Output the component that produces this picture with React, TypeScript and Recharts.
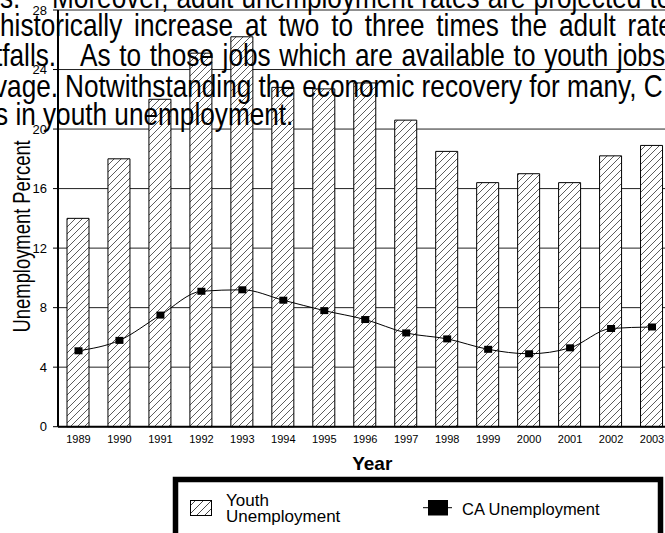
import React from 'react';
import { ComposedChart, Bar, Line, XAxis, YAxis, CartesianGrid } from 'recharts';

const years = ['1989', '1990', '1991', '1992', '1993', '1994', '1995', '1996', '1997', '1998', '1999', '2000', '2001', '2002', '2003'];
const youthUnemployment = [14.0, 18.0, 22.0, 25.1, 26.2, 22.8, 22.7, 23.1, 20.6, 18.5, 16.4, 17.0, 16.4, 18.2, 18.9];
const caUnemployment = [5.1, 5.8, 7.5, 9.1, 9.2, 8.5, 7.8, 7.2, 6.3, 5.9, 5.2, 4.9, 5.3, 6.6, 6.7];
const yTicks = [0, 4, 8, 12, 16, 20, 24, 28];

const data = years.map((year, i) => ({ year, youth: youthUnemployment[i], ca: caUnemployment[i] }));

const FONT = "'Liberation Sans', Arial, Helvetica, sans-serif";

const SquareDot = (props: any) => {
  const { cx, cy, index } = props;
  if (cx == null || cy == null) return null;
  return <rect key={`dot-${index}`} x={cx - 4} y={cy - 3.5} width={8} height={7} fill="#000" />;
};

const YLabel = (props: any) => {
  const vb = props.viewBox || { x: 0, y: 10, width: 58, height: 417 };
  const cx = vb.x + 22;
  const cy = vb.y + vb.height / 2 + 18;
  return (
    <text
      transform={`translate(${cx},${cy}) rotate(-90) scale(0.8,1)`}
      textAnchor="middle"
      dominantBaseline="central"
      fontSize={23}
      fontFamily={FONT}
      fill="#000"
    >
      Unemployment Percent
    </text>
  );
};

const XLabel = (props: any) => {
  const vb = props.viewBox || { x: 58, y: 427, width: 614, height: 30 };
  return (
    <text x={vb.x + vb.width / 2 + 7} y={vb.y + vb.height + 13} textAnchor="middle" fontSize={19} fontWeight="bold" fontFamily={FONT} fill="#000">
      Year
    </text>
  );
};

const S = 0.845;

export default function App() {
  return (
    <div style={{ position: 'absolute', left: 0, top: 0, width: 665, height: 533, overflow: 'hidden', background: '#fff' }}>
      <ComposedChart width={700} height={533} data={data} margin={{ top: 10, right: 27.5, bottom: 76.3, left: 0 }}>
        <defs>
          <pattern id="hatch" patternUnits="userSpaceOnUse" width={7} height={7}>
            <rect width={7} height={7} fill="#fff" />
            <path d="M0,7 L7,0 M-1,1 L1,-1 M6,8 L8,6" stroke="#333" strokeWidth={0.8} />
          </pattern>
        </defs>
        <CartesianGrid vertical={false} stroke="#222" strokeWidth={1} />
        <XAxis
          dataKey="year"
          height={30}
          tickLine={false}
          axisLine={{ stroke: '#000', strokeWidth: 2 }}
          tick={{ fontSize: 11, fill: '#000', fontFamily: FONT }}
          interval={0}
          label={<XLabel />}
        />
        <YAxis
          width={58}
          domain={[0, 28]}
          ticks={yTicks}
          tickSize={5}
          tickMargin={6}
          tickLine={{ stroke: '#000' }}
          axisLine={{ stroke: '#000', strokeWidth: 2 }}
          tick={{ fontSize: 13, fill: '#000', fontFamily: FONT }}
          label={<YLabel />}
        />
        <Bar dataKey="youth" barSize={22} fill="url(#hatch)" stroke="#000" strokeWidth={1} isAnimationActive={false} />
        <Line dataKey="ca" type="monotone" stroke="#000" strokeWidth={1} dot={<SquareDot />} activeDot={false} isAnimationActive={false} />
      </ComposedChart>

      <svg width={665} height={533} style={{ position: 'absolute', left: 0, top: 0, pointerEvents: 'none' }}>
        <defs>
          <pattern id="legendHatch" patternUnits="userSpaceOnUse" width={8} height={8}>
            <rect width={8} height={8} fill="#fff" />
            <path d="M0,8 L8,0 M-1,1 L1,-1 M7,9 L9,7" stroke="#333" strokeWidth={0.9} />
          </pattern>
        </defs>
        <g fontFamily={FONT} fontSize={31} fill="#000">
          <text transform={`translate(0,8) scale(${S},1)`} style={{ wordSpacing: '1px' }}>
            <tspan x={0}>s.</tspan>
            <tspan x={52 / S}>Moreover, adult unemployment rates are projected to</tspan>
          </text>
          <text transform={`translate(0,36) scale(${S},1)`} x={0} style={{ wordSpacing: '5.4px' }}>
            historically increase at two to three times the adult rate
          </text>
          <text transform={`translate(0,65.7) scale(${S},1)`} style={{ wordSpacing: '1.7px' }}>
            <tspan x={-5 / S}>tfalls.</tspan>
            <tspan x={80 / S}>As to those jobs which are available to youth jobs</tspan>
          </text>
          <text transform={`translate(0,96.7) scale(${S},1)`}>
            <tspan x={-6 / S}>vage.</tspan>
            <tspan x={65 / S}>Notwithstanding the economic recovery for many, C</tspan>
          </text>
          <text transform={`translate(0,125) scale(${S},1)`} x={-5 / S}>
            s in youth unemployment.
          </text>
        </g>

        <rect x={175.5} y={479.5} width={485} height={70} fill="#fff" stroke="#000" strokeWidth={5.5} />
        <rect x={190.5} y={500.5} width={21} height={15} fill="url(#legendHatch)" stroke="#000" strokeWidth={1} />
        <text x={226} y={506} fontSize={17} fontFamily={FONT} fill="#000">Youth</text>
        <text x={226} y={521.5} fontSize={17} fontFamily={FONT} fill="#000">Unemployment</text>
        <line x1={423} x2={452} y1={507.7} y2={507.7} stroke="#000" strokeWidth={1} />
        <rect x={428} y={500} width={20} height={15.5} fill="#000" />
        <text x={462} y={515} fontSize={16.5} fontFamily={FONT} fill="#000">CA Unemployment</text>
      </svg>
    </div>
  );
}
